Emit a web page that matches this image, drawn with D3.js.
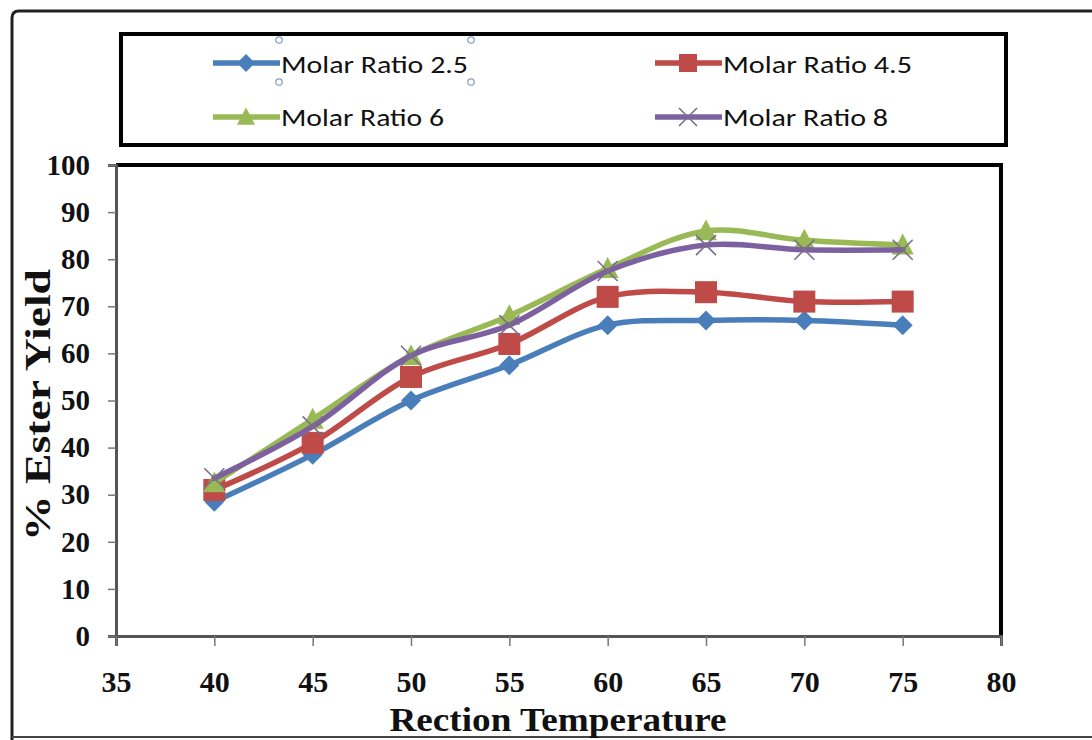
<!DOCTYPE html>
<html>
<head>
<meta charset="utf-8">
<script src="https://cdn.jsdelivr.net/npm/d3@7"></script>
<style>
  html, body { margin: 0; padding: 0; background: #fff; }
  svg { display: block; }
</style>
</head>
<body>
<svg id="chart" width="1092" height="740"></svg>
<script>
// ---------- data ----------
const temperatures = [40, 45, 50, 55, 60, 65, 70, 75];
const seriesNames = ["Molar Ratio 2.5", "Molar Ratio 4.5", "Molar Ratio 6", "Molar Ratio 8"];
const ratio25 = [28.5, 38.5, 50, 57.5, 66, 67, 67, 66];
const ratio45 = [31, 41, 55, 62, 72, 73, 71, 71];
const ratio6  = [32.5, 46, 59.5, 68, 78, 86, 84, 83];
const ratio8  = [33.5, 44.5, 59.5, 66, 77.5, 83, 82, 82];
const xTicks = [35, 40, 45, 50, 55, 60, 65, 70, 75, 80];
const yTicks = [0, 10, 20, 30, 40, 50, 60, 70, 80, 90, 100];

const seriesValues = [ratio25, ratio45, ratio6, ratio8];
const colors = ["#4a7ebb", "#be4b48", "#98b954", "#7d60a0"];
const markers = ["diamond", "square", "triangle", "cross"];

const svg = d3.select("#chart");

// ---------- outer frame ----------
svg.append("path")
  .attr("d", "M12,740 L12,18 Q12,11 19,11 L1092,11")
  .attr("fill", "none").attr("stroke", "#222").attr("stroke-width", 3);
svg.append("line").attr("x1", 12).attr("x2", 1092).attr("y1", 737).attr("y2", 737)
  .attr("stroke", "#444").attr("stroke-width", 2);

// ---------- scales ----------
const plot = { left: 116, right: 1001, top: 165, bottom: 636 };
const x = d3.scaleLinear().domain([35, 80]).range([plot.left, plot.right]);
const y = d3.scaleLinear().domain([0, 100]).range([plot.bottom, plot.top]);

// plot border (top & right black)
svg.append("path")
  .attr("d", `M${plot.left},${plot.top} L${plot.right},${plot.top} L${plot.right},${plot.bottom}`)
  .attr("fill", "none").attr("stroke", "#000").attr("stroke-width", 4);

// ---------- axes ----------
const yAxis = svg.append("g")
  .attr("transform", `translate(${plot.left},0)`)
  .call(d3.axisLeft(y).tickValues(yTicks).tickSize(8).tickPadding(18).tickFormat(d3.format("d")));
yAxis.select(".domain").attr("stroke", "#555").attr("stroke-width", 3);
yAxis.selectAll(".tick line").attr("stroke", "#777").attr("stroke-width", 1.5);
yAxis.selectAll(".tick text")
  .attr("font-family", "'Liberation Serif', 'Times New Roman', serif")
  .attr("font-weight", "bold").attr("font-size", 29).attr("fill", "#111");

const xAxis = svg.append("g")
  .attr("transform", `translate(0,${plot.bottom})`)
  .call(d3.axisBottom(x).tickValues(xTicks).tickSize(10).tickPadding(25).tickFormat(d3.format("d")));
xAxis.select(".domain").attr("stroke", "#555").attr("stroke-width", 3);
xAxis.selectAll(".tick line").attr("stroke", "#777").attr("stroke-width", 1.5);
xAxis.selectAll(".tick text")
  .attr("font-family", "'Liberation Serif', 'Times New Roman', serif")
  .attr("font-weight", "bold").attr("font-size", 30).attr("fill", "#111");

// axis titles
svg.append("text")
  .attr("x", 558).attr("y", 731)
  .attr("text-anchor", "middle")
  .attr("font-family", "'Liberation Serif', 'Times New Roman', serif")
  .attr("font-weight", "bold").attr("font-size", 34).attr("fill", "#111")
  .attr("textLength", 337).attr("lengthAdjust", "spacingAndGlyphs")
  .text("Rection Temperature");

svg.append("text")
  .attr("transform", "translate(50,405) rotate(-90)")
  .attr("text-anchor", "middle")
  .attr("font-family", "'Liberation Serif', 'Times New Roman', serif")
  .attr("font-weight", "bold").attr("font-size", 36).attr("fill", "#111")
  .attr("textLength", 272).attr("lengthAdjust", "spacingAndGlyphs")
  .text("% Ester Yield");

// ---------- marker drawing ----------
function drawMarker(g, type, cx, cy, color, s) {
  if (type === "diamond") {
    g.append("path")
      .attr("d", `M${cx},${cy - s} L${cx + s},${cy} L${cx},${cy + s} L${cx - s},${cy} Z`)
      .attr("fill", color);
  } else if (type === "square") {
    g.append("rect").attr("x", cx - s).attr("y", cy - s).attr("width", 2 * s).attr("height", 2 * s)
      .attr("fill", color);
  } else if (type === "triangle") {
    g.append("path")
      .attr("d", `M${cx},${cy - s * 1.05} L${cx + s},${cy + s * 0.85} L${cx - s},${cy + s * 0.85} Z`)
      .attr("fill", color);
  } else if (type === "cross") {
    g.append("path")
      .attr("d", `M${cx - s},${cy - s} L${cx + s},${cy + s} M${cx + s},${cy - s} L${cx - s},${cy + s}`)
      .attr("stroke", "#7a6e8a").attr("stroke-width", 1.6).attr("fill", "none");
  }
}

// ---------- lines ----------
const line = d3.line()
  .x(d => x(d[0])).y(d => y(d[1]))
  .curve(d3.curveCatmullRom.alpha(0.5));

const sizes = [10, 11, 11, 10];
seriesValues.forEach((vals, i) => {
  const pts = temperatures.map((t, j) => [t, vals[j]]);
  const g = svg.append("g");
  g.append("path").datum(pts)
    .attr("d", line)
    .attr("fill", "none").attr("stroke", colors[i]).attr("stroke-width", 5.5)
    .attr("stroke-linejoin", "round").attr("stroke-linecap", "round");
  pts.forEach(p => drawMarker(g, markers[i], x(p[0]), y(p[1]), colors[i], sizes[i]));
});

// ---------- legend ----------
svg.append("rect")
  .attr("x", 121).attr("y", 34).attr("width", 885).attr("height", 111)
  .attr("fill", "#fff").attr("stroke", "#000").attr("stroke-width", 4);

const legendPos = [
  { lx: 213, ty: 73, ly: 63 },
  { lx: 655, ty: 73, ly: 63 },
  { lx: 213, ty: 126, ly: 117 },
  { lx: 655, ty: 126, ly: 117 }
];
const legendWidths = [187, 189, 163, 165];
seriesNames.forEach((name, i) => {
  const p = legendPos[i];
  const g = svg.append("g");
  g.append("line").attr("x1", p.lx).attr("x2", p.lx + 67).attr("y1", p.ly).attr("y2", p.ly)
    .attr("stroke", colors[i]).attr("stroke-width", 5.5);
  drawMarker(g, markers[i], p.lx + 33, p.ly, colors[i], 9);
  g.append("text")
    .attr("x", p.lx + 68).attr("y", p.ty)
    .attr("font-family", "Carlito, 'Liberation Sans', 'Open Sans', sans-serif")
    .attr("font-size", 25).attr("fill", "#111")
    .attr("textLength", legendWidths[i]).attr("lengthAdjust", "spacingAndGlyphs")
    .text(name);
});

// selection handles around first legend label
[[279, 40], [471, 40], [279, 82], [471, 82]].forEach(c => {
  svg.append("circle").attr("cx", c[0]).attr("cy", c[1]).attr("r", 3.2)
    .attr("fill", "#fff").attr("stroke", "#7f9ec0").attr("stroke-width", 1.2);
});
</script>
</body>
</html>
